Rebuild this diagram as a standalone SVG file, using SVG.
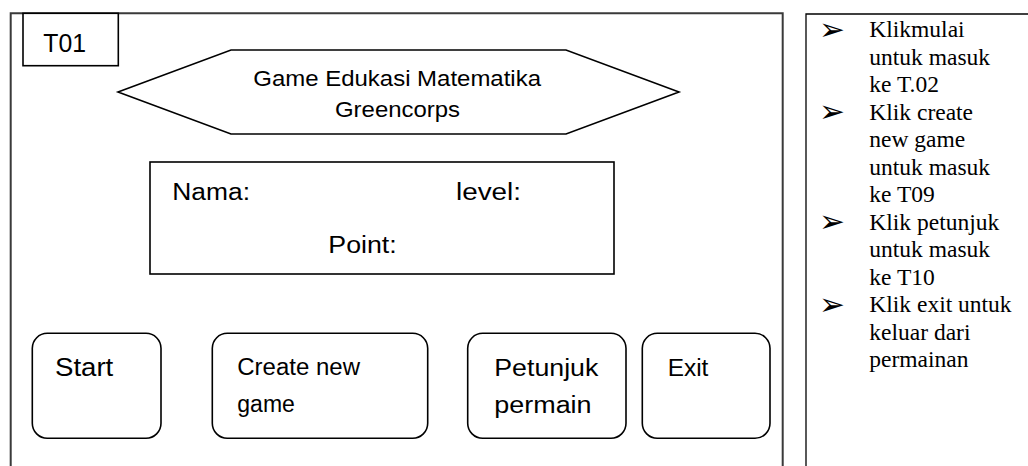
<svg xmlns="http://www.w3.org/2000/svg" width="1028" height="466" viewBox="0 0 1028 466">
  <style>
    .frame { fill: none; stroke: #3a3a3a; stroke-width: 2; }
    .box { fill: #fff; stroke: #000; stroke-width: 1.6; }
    .btn { fill: #fff; stroke: #000; stroke-width: 1.6; }
    .thin { fill: none; stroke: #000; stroke-width: 1.3; }
    .sans { font-family: "Liberation Sans", Arial, sans-serif; fill: #000; }
    .note { font-family: "Liberation Serif", "Times New Roman", serif; font-size: 23.5px; fill: #000; }
    .bullet { font-family: "DejaVu Sans", sans-serif; font-size: 31px; fill: #000; }
  </style>

  <rect width="1028" height="466" fill="#fff"/>

  <!-- screen frame, open at the bottom -->
  <g id="screen-frame">
    <path class="frame" d="M10.7,466 V13.3 H782.7 V466"/>
  </g>

  <!-- screen code label -->
  <g id="label-t01">
    <rect class="box" x="23" y="13.3" width="95.3" height="52.4"/>
    <text class="sans" x="43.3" y="52.3" font-size="26" textLength="42.7" lengthAdjust="spacingAndGlyphs">T01</text>
  </g>

  <!-- title banner -->
  <g id="title">
    <polygon class="box" points="118,92 231,50 566,50 679,92 566,134 231,134"/>
    <text class="sans" x="253.3" y="86" font-size="22.5" textLength="287.7" lengthAdjust="spacingAndGlyphs">Game Edukasi Matematika</text>
    <text class="sans" x="335" y="117.3" font-size="22.5" textLength="125" lengthAdjust="spacingAndGlyphs">Greencorps</text>
  </g>

  <!-- player info panel -->
  <g id="player-info">
    <rect class="box" x="150" y="162" width="464" height="112"/>
    <text class="sans" x="172.3" y="200" font-size="23.5" textLength="77.7" lengthAdjust="spacingAndGlyphs">Nama:</text>
    <text class="sans" x="456" y="200" font-size="23.5" textLength="65" lengthAdjust="spacingAndGlyphs">level:</text>
    <text class="sans" x="328.3" y="253.3" font-size="23.5" textLength="68.4" lengthAdjust="spacingAndGlyphs">Point:</text>
  </g>

  <!-- menu buttons -->
  <g id="btn-start">
    <rect class="btn" x="32.3" y="333.3" width="128.7" height="105" rx="15"/>
    <text class="sans" x="55" y="376" font-size="26" textLength="58.3" lengthAdjust="spacingAndGlyphs">Start</text>
  </g>
  <g id="btn-create">
    <rect class="btn" x="212.3" y="333.3" width="215.4" height="105" rx="15"/>
    <text class="sans" x="237.3" y="375" font-size="23" textLength="122.7" lengthAdjust="spacingAndGlyphs">Create new</text>
    <text class="sans" x="237.3" y="411.7" font-size="23">game</text>
  </g>
  <g id="btn-petunjuk">
    <rect class="btn" x="467.7" y="333.3" width="158.3" height="105" rx="15"/>
    <text class="sans" x="494.3" y="376" font-size="23" textLength="104" lengthAdjust="spacingAndGlyphs">Petunjuk</text>
    <text class="sans" x="494.3" y="413.3" font-size="23" textLength="97.3" lengthAdjust="spacingAndGlyphs">permain</text>
  </g>
  <g id="btn-exit">
    <rect class="btn" x="642.3" y="333.3" width="127.7" height="105" rx="15"/>
    <text class="sans" x="667.7" y="376" font-size="23" textLength="40.7" lengthAdjust="spacingAndGlyphs">Exit</text>
  </g>

  <!-- navigation notes -->
  <g id="notes">
    <path class="thin" d="M806,466 V14 H1028"/>
    <g class="bullet">
      <text x="819" y="39.5">➢</text>
      <text x="819" y="122">➢</text>
      <text x="819" y="232">➢</text>
      <text x="819" y="314.5">➢</text>
    </g>
    <g class="note">
      <text x="869.3" y="37.3">Klikmulai</text>
      <text x="869.3" y="64.8">untuk masuk</text>
      <text x="869.3" y="92.3">ke T.02</text>
      <text x="869.3" y="119.8">Klik create</text>
      <text x="869.3" y="147.3">new game</text>
      <text x="869.3" y="174.8">untuk masuk</text>
      <text x="869.3" y="202.3">ke T09</text>
      <text x="869.3" y="229.8">Klik petunjuk</text>
      <text x="869.3" y="257.3">untuk masuk</text>
      <text x="869.3" y="284.8">ke T10</text>
      <text x="869.3" y="312.3">Klik exit untuk</text>
      <text x="869.3" y="339.8">keluar dari</text>
      <text x="869.3" y="367.3">permainan</text>
    </g>
  </g>
</svg>
